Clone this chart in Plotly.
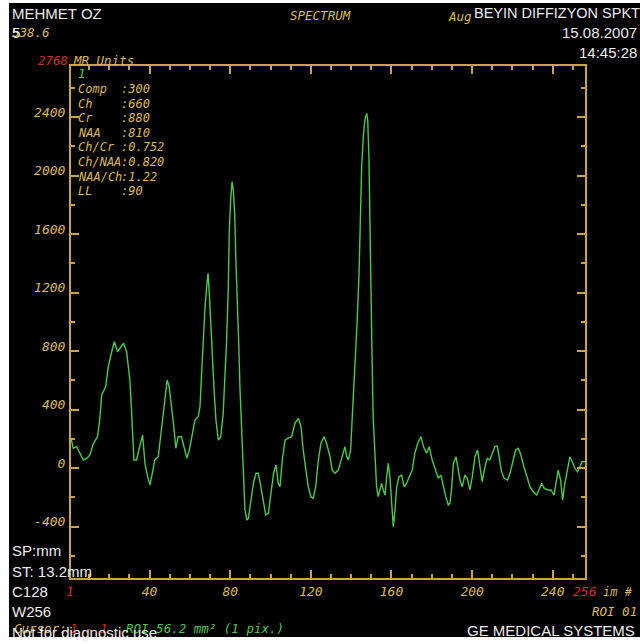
import plotly.graph_objects as go

# Single-voxel MR spectrum: sample index (1..256) and signal amplitude (MR units)
point_index = [
    1, 2.1, 3.8, 5.5, 7.1, 8.8, 10.4, 12.1, 14.2, 15.4, 16.2, 18.2, 19.5, 21.2, 22.5,
    24.1, 25.3, 27.1, 28.6, 30.2, 31.1, 32.2, 33.5, 35.2, 36.5, 37.7, 39, 40.2, 41.3,
    42.6, 44.3, 45.9, 47.6, 48.7, 49.7, 50.9, 52, 53, 54.2, 55.8, 57.2, 58.5, 59.7,
    60.8, 62.5, 64.1,
    65, 65.8, 66.6, 67.5, 68.3, 69, 69.6, 70.4, 71.1, 71.9, 72.9, 74.1, 75.3, 76.5,
    77.4, 78.2, 79, 79.5, 80.2, 80.9, 81.5, 82.2, 82.8, 83.5, 84.2, 84.8, 85.7, 86.5,
    87.3, 88.2, 89, 90.3, 91.5, 92.8, 93.9, 95.2, 96.4, 97.6, 98.9, 100.2, 101.5,
    102.7, 103.8, 104.7, 105.8, 107.2, 108.5, 110.5, 112.1, 113.8, 115.1, 116.2,
    117.6, 118.7, 120, 121.2, 122.4, 123.7, 125, 126.5, 127.8,
    129.5, 130.6, 132, 133.6, 134.9, 136.1, 136.9, 137.8, 138.6, 139.7, 140.5, 141.5,
    142.4, 143, 143.9, 144.5, 145.2, 146, 146.8, 147.7, 148.2, 148.8, 149.3, 149.8,
    150.3, 150.9, 151.8, 152.6, 153.4, 154.3, 155.1, 155.9, 156.8, 157.6, 158.4,
    159.2, 160.1, 160.9, 161.7, 162.6, 163.7, 165, 166.3, 167.5, 168.8, 170.3, 171.6,
    173, 174.6, 175.9, 177.4, 178.7, 180.2, 181.9, 183.2, 184.5, 185.7, 186.9, 188.2,
    189, 189.9, 190.7, 192,
    192.8, 194, 195.1, 196.4, 197.6, 198.9, 200.1, 201.4, 202.7, 203.9, 205, 206.4,
    207.5, 208.8, 210.2, 211.3, 212.5, 213.5, 214.6, 215.9, 217.6, 218.8, 220.4,
    221.6, 222.9, 224.2, 225.7, 227, 228.7, 230.3, 232, 233.1, 234.5, 235.8, 237.5,
    239.1, 240.6, 241.6, 242.7, 243.9, 244.9, 246, 247.2, 248.5, 249.7, 251, 252.3,
    253.5, 254.6, 256,
]
amplitude = [
    205, 135, 146, 101, 55, 66, 89, 169, 214, 351, 499, 556, 693, 795, 864,
    795, 819, 853, 795, 602, 374, 55, 55, 146, 226, 32, -59, -116, -48,
    55, 77, 282, 488, 602, 556, 419, 282, 135, 214, 214, 146, 66, 123,
    214, 328, 351,
    419, 648, 875, 1103, 1240, 1331, 1195, 1012, 784, 556, 328, 191, 214, 374,
    602, 875, 1217, 1605, 1833, 1958, 1901, 1742, 1422, 1171, 853, 556, 237, -36,
    -287, -356, -344, -219, -103, -36, -36, -128, -241, -321, -310, -173, -36,
    21, -103, -128, 55, 191, 203, 214, 306, 340, 282, 123,
    -14, -128, -196, -207, -128, 55, 169, 214, 169,
    77, -14, -36, -14, 55, 123, 146, 77, 55, 123, 328, 579,
    829, 1012, 1331, 1696, 2060, 2265, 2380, 2425, 2380, 2129, 1605, 1103,
    807, 351, 101, -128, -196, -150, -105, -150, -185, -59, 32,
    -59, -287, -401, -287, -128, -59, -48, -128, -105, -59, -14, 101,
    169, 214, 146, 101, 146, 55, -14, -70, -48, -128, -196, -253,
    -241, -128, 32, 77,
    9, -82, -128, -48, -70, -150, -59, 77, 123, 9, -94, 9,
    66, 55, 111, 146, 150, 55, -25, -70, -82, -36, 55,
    123, 135, 89, 9, -59, -128, -162, -185, -150, -105, -139, -150,
    -150, -185, -105, -14, -82, -219, -105, -14, 77, 43, -2, -25,
    9, 43, 43,
]

x_range = [1, 256]
y_range = [-752, 2749]
x_tick_values = [40, 80, 120, 160, 200, 240]
x_minor_values = [v for v in range(10, 256, 10) if v % 40]
y_tick_values = [-400, 0, 400, 800, 1200, 1600, 2000, 2400]
y_minor_values = [-600, -200, 200, 600, 1000, 1400, 1800, 2200, 2600]

metabolite_names = ["Comp", "Ch", "Cr", "NAA", "Ch/Cr", "Ch/NAA", "NAA/Ch", "LL"]
metabolite_values = [":300", ":660", ":880", ":810", ":0.752", ":0.820", ":1.22", ":90"]

W, H = 640, 644
PL, PR, PT, PB = 71, 585, 66, 578

GOLD = "#c9a53e"
YELLOW = "#dcbb4a"
WHITE = "#ececec"
RED = "#d42a2a"
GREEN = "#4cc84c"
MONO = "DejaVu Sans Mono"
SANS = "Liberation Sans"


def fx(p):
    return (p - PL) / (PR - PL)


def fy(p):
    return (PB - p) / (PB - PT)


def label(text, x, y, color, anchor="left", family=MONO, size=13, italic=True):
    return dict(
        text=text, x=fx(x), y=fy(y), xref="paper", yref="paper",
        xanchor=anchor, yanchor="middle", showarrow=False,
        font=dict(family=family, size=size, color=color,
                  style="italic" if italic else "normal"),
    )


def white(text, x, y, anchor="left", size=15):
    return label(text, x, y, WHITE, anchor=anchor, family=SANS, size=size, italic=False)


fig = go.Figure()
fig.add_trace(go.Scatter(
    x=point_index, y=amplitude, mode="lines",
    line=dict(color=GREEN, width=1.4), hoverinfo="skip", showlegend=False,
))

annotations = [
    white("MEHMET OZ", 10, 13),
    label("538.6", 10, 32, YELLOW, size=12.5),
    white("5", 10, 32),
    label("SPECTRUM", 320, 15, YELLOW, anchor="center", size=12.5),
    label("Aug", 446, 16, YELLOW, size=12.5),
    white("BEYIN DIFFIZYON SPKT", 472, 13, size=14.5),
    white("15.08.2007", 639, 32, anchor="right"),
    white("14:45:28", 639, 52, anchor="right"),
    label("2768", 70, 60, RED, anchor="right", size=12.5),
    label("MR Units", 71, 60, YELLOW, size=12.5),
    label("1", 76, 73, GREEN, size=12.5),
    white("SP:mm", 10, 550),
    white("ST: 13.2mm", 10, 571),
    white("C128", 10, 591),
    white("W256", 10, 611),
    label("Cursor:", 12, 628, YELLOW, size=12.5),
    label("1 - 1", 68, 628, RED, size=12.5),
    label("ROI 56.2 mm\u00b2 (1 pix.)", 124, 628, GREEN, size=12.5),
    white("Not for diagnostic use", 10, 632),
    label("1", 70, 591, RED, anchor="center"),
    label("256", 585, 591, RED, anchor="center"),
    label("im #", 601, 592, YELLOW, size=12),
    label("ROI 01", 639, 611, YELLOW, anchor="right", size=12.5),
    white("GE MEDICAL SYSTEMS", 637, 630, anchor="right"),
]
for i, (name, val) in enumerate(zip(metabolite_names, metabolite_values)):
    y = 89 + i * 14.6
    annotations.append(label(name, 76, y, YELLOW, size=12))
    annotations.append(label(val, 119, y, YELLOW, size=12))

axis_font = dict(family=MONO, size=13, color=YELLOW, style="italic")

fig.update_layout(
    width=W, height=H,
    margin=dict(l=PL, r=W - PR, t=PT, b=H - PB, pad=0),
    paper_bgcolor="white",
    plot_bgcolor="black",
    shapes=[dict(
        type="rect", xref="paper", yref="paper", layer="below",
        x0=fx(9), x1=fx(641), y0=fy(637), y1=fy(3),
        fillcolor="black", line=dict(width=0),
    )],
    annotations=annotations,
    xaxis=dict(
        range=x_range, showgrid=False, zeroline=False,
        showline=True, linecolor=GOLD, linewidth=2, mirror="allticks",
        ticks="inside", ticklen=8, tickwidth=1.5, tickcolor=GOLD,
        tickmode="array", tickvals=x_tick_values,
        ticktext=[str(v) for v in x_tick_values],
        tickfont=axis_font, ticklabelstandoff=0,
        minor=dict(tickmode="array", tickvals=x_minor_values, ticks="inside",
                   ticklen=4, tickwidth=1.5, tickcolor=GOLD, showgrid=False),
    ),
    yaxis=dict(
        range=y_range, showgrid=False, zeroline=False,
        showline=True, linecolor=GOLD, linewidth=2, mirror="allticks",
        ticks="inside", ticklen=8, tickwidth=1.5, tickcolor=GOLD,
        tickmode="array", tickvals=y_tick_values,
        ticktext=[str(v) for v in y_tick_values],
        tickfont=axis_font, ticklabelshift=-5, ticklabelstandoff=1,
        minor=dict(tickmode="array", tickvals=y_minor_values, ticks="inside",
                   ticklen=4, tickwidth=1.5, tickcolor=GOLD, showgrid=False),
    ),
)

fig.write_html("out.html")
